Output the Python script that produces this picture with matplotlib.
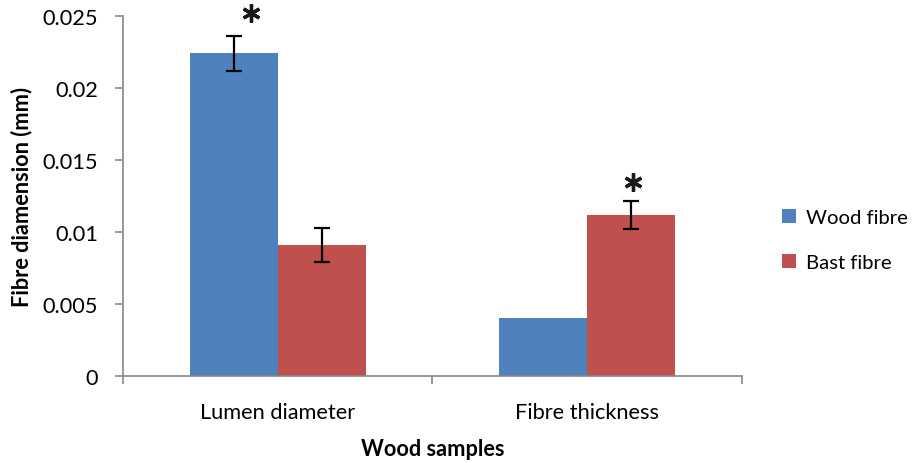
import matplotlib
matplotlib.use("Agg")
import matplotlib.pyplot as plt
import numpy as np

categories = ["Lumen diameter", "Fibre thickness"]
series_names = ["Wood fibre", "Bast fibre"]
wood_values = [0.0224, 0.0040]
bast_values = [0.0091, 0.0112]
wood_err = [0.00123, 0.0]
bast_err = [0.00115, 0.00097]
yticks = [0, 0.005, 0.01, 0.015, 0.02, 0.025]
ytick_labels = ["0", "0.005", "0.01", "0.015", "0.02", "0.025"]

plt.rcParams['font.family'] = ['Lato', 'DejaVu Sans']
FS = 15.7

fig = plt.figure(figsize=(9.2, 4.64), dpi=100)
ax = fig.add_axes([123/920, (464-377)/464, (742-123)/920, (377-17)/464])

x = np.arange(len(categories))
w = 0.285
blue = "#4F81BD"
red = "#C0504D"
ax.bar(x - w/2, wood_values, w, color=blue, label=series_names[0])
ax.bar(x + w/2, bast_values, w, color=red, label=series_names[1])

ek = dict(fmt='none', ecolor='black', elinewidth=1.6, capsize=5.5, capthick=1.6)
ax.errorbar([x[0] - w/2], [wood_values[0]], yerr=[wood_err[0]], **ek)
ax.errorbar(x + w/2, bast_values, yerr=bast_err, **ek)

star = dict(marker=(6, 2, 0), markersize=13, markeredgewidth=2.4, color='#1a1a1a',
            linestyle='none', clip_on=False)
ax.plot([-0.086], [0.0252], **star)
ax.plot([1.148], [0.0135], **star)

ax.set_xlim(-0.5, 1.5)
ax.set_ylim(0, 0.025)
ax.set_yticks(yticks)
ax.set_yticklabels(ytick_labels, fontsize=FS)
ax.set_xticks(x)
ax.set_xticklabels(categories, fontsize=FS)
ax.set_xticks([-0.5, 0.5, 1.5], minor=True)
ax.tick_params(axis='x', which='major', length=0, pad=19)
ax.tick_params(axis='x', which='minor', length=6, width=1.2, color='#878787', direction='out')
ax.tick_params(axis='y', length=6, width=1.2, color='#878787', direction='out', pad=12)

for s in ['top', 'right']:
    ax.spines[s].set_visible(False)
for s in ['left', 'bottom']:
    ax.spines[s].set_color('#878787')
    ax.spines[s].set_linewidth(1.2)

ax.set_xlabel("Wood samples", fontsize=FS, fontweight='bold', labelpad=11)
ax.set_ylabel("Fibre diamension (mm)", fontsize=FS, fontweight='bold', labelpad=7)

leg = fig.legend(loc='center left', bbox_to_anchor=(764/920, (464-241)/464), frameon=False,
                 fontsize=14.6, handlelength=0.7, handleheight=0.7, handletextpad=0.45,
                 labelspacing=1.35, borderpad=0.4)

fig.savefig("out.png", dpi=100)
